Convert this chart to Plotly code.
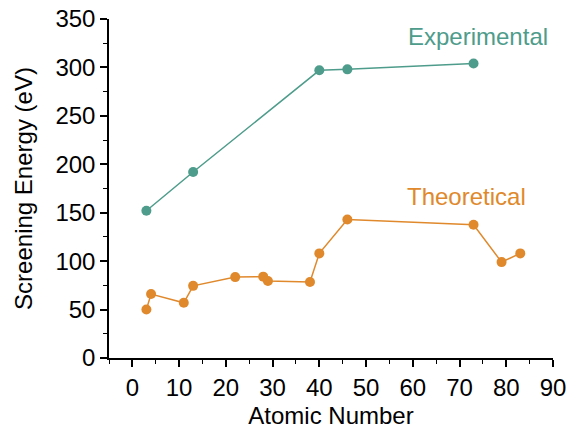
import plotly.graph_objects as go

exp_z = [3, 13, 40, 46, 73]
exp_e = [152, 192, 297, 298, 304]
theo_z = [3, 4, 11, 13, 22, 28, 29, 38, 40, 46, 73, 79, 83]
theo_e = [50, 66, 57, 74.5, 83.5, 84, 79.5, 78.5, 108, 143, 137.5, 99, 108]

teal = "#4e9c8b"
orange = "#e0892c"
FONT = "Liberation Sans, Arial"

W, H = 568, 432
L, R, T, B = 109, 15, 19, 74
pw, ph = W - L - R, H - T - B

fig = go.Figure()
fig.add_trace(go.Scatter(x=exp_z, y=exp_e, mode="lines+markers",
                         line=dict(color=teal, width=1.5),
                         marker=dict(color=teal, size=10), name="Experimental"))
fig.add_trace(go.Scatter(x=theo_z, y=theo_e, mode="lines+markers",
                         line=dict(color=orange, width=1.5),
                         marker=dict(color=orange, size=10), name="Theoretical"))

labels = [("Experimental", teal, 478, 37), ("Theoretical", orange, 466, 196)]
for text, col, px, py in labels:
    fig.add_annotation(x=(px - L) / pw, y=1 - (py - T) / ph,
                       xref="paper", yref="paper", xanchor="center", yanchor="middle",
                       text=text, showarrow=False,
                       font=dict(color=col, size=24, family=FONT))

axis_common = dict(showline=True, linecolor="black", linewidth=1.5,
                   ticks="outside", ticklen=7, tickwidth=1.5, tickcolor="black",
                   showgrid=False, zeroline=False, automargin=False,
                   ticklabeloverflow="allow",
                   tickfont=dict(size=24, color="black", family=FONT))

fig.update_layout(
    width=W, height=H,
    margin=dict(l=L, r=R, t=T, b=B),
    paper_bgcolor="white", plot_bgcolor="white",
    showlegend=False,
    font=dict(family=FONT, color="black"),
    xaxis=dict(range=[-5, 90], dtick=10, tick0=0,
               title=dict(text="Atomic Number", font=dict(size=24), standoff=8),
               minor=dict(ticks="outside", ticklen=4, tickwidth=1.2, tickcolor="black", dtick=5),
               **axis_common),
    yaxis=dict(range=[0, 350], dtick=50, tick0=0,
               title=dict(text="Screening Energy (eV)", font=dict(size=24), standoff=16),
               minor=dict(ticks="outside", ticklen=4, tickwidth=1.2, tickcolor="black", dtick=25),
               **axis_common),
)

fig.write_html("out.html", config={"displayModeBar": False},
               post_script="document.body.style.margin='0';document.body.style.overflow='hidden';")
